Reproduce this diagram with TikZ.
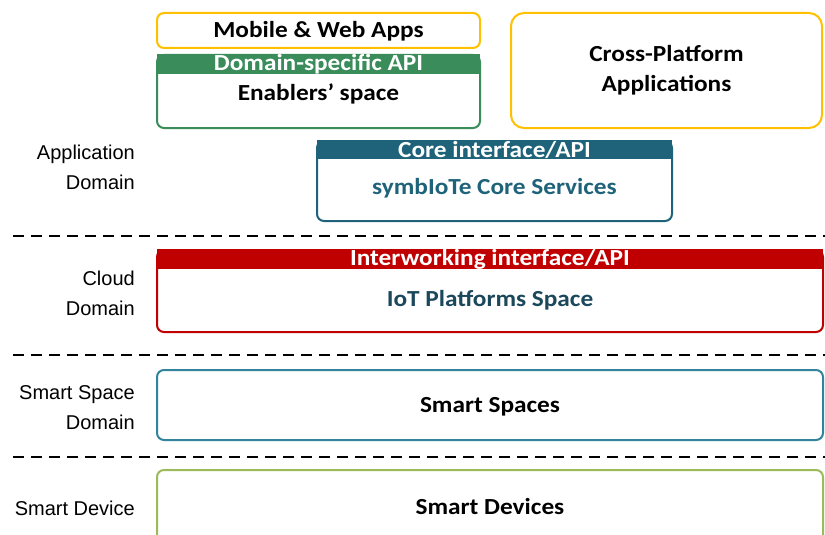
\documentclass[tikz,border=0pt]{standalone}
\usepackage{fontspec}
\setmainfont{Carlito}[FakeStretch=1.1]
\newfontfamily\fuenteDominio{Liberation Sans}
\usetikzlibrary{positioning}
\definecolor{figAmarilloBorde}{RGB}{255,192,0}
\definecolor{figVerdeBorde}{RGB}{58,140,90}
\definecolor{figPetroleoBorde}{RGB}{31,99,122}
\definecolor{figRojoBorde}{RGB}{192,0,0}
\definecolor{figCianBorde}{RGB}{49,132,155}
\definecolor{figOlivaBorde}{RGB}{155,187,89}
\definecolor{figTextoIoT}{RGB}{28,72,92}
\tikzset{
  capa/.style={
    rectangle, rounded corners=7pt, line width=2pt, fill=white,
    inner sep=0pt, align=center
  },
  cabecera/.style={
    rectangle, anchor=north, inner sep=0pt, text=white,
    font=\bfseries\fontsize{23}{24}\selectfont
  },
  rotulo/.style={
    inner sep=0pt, align=center, font=\bfseries\fontsize{23}{30}\selectfont
  },
  dominio/.style={
    anchor=east, inner sep=0pt, align=right,
    font=\fuenteDominio\fontsize{20}{30}\selectfont
  },
  separador/.style={line width=2.5pt, dash pattern=on 11pt off 7pt}
}

\begin{document}
\begin{tikzpicture}[x=1pt, y=-1pt]
  \useasboundingbox (0,0) rectangle (825,535);
  \node[capa, draw=figAmarilloBorde, minimum width=323pt, minimum height=35pt] (movil) at (318.5,30.5) {};
  \node[rotulo] (movilTxt) at (318.5,31.5) {Mobile \& Web Apps};
  \node[capa, draw=figVerdeBorde, minimum width=323pt, minimum height=73pt] (habil) at (318.5,91.5) {};
  \node[cabecera, fill=figVerdeBorde, minimum width=323pt, minimum height=18pt] (habilApi) at (habil.north) {Domain-specific API};
  \node[rotulo] (habilTxt) at (318.5,94) {Enablers’ space};
  \node[capa, draw=figAmarilloBorde, rounded corners=13pt, minimum width=311pt, minimum height=115pt] (cruzada) at (666.5,70.5) {};
  \node[rotulo] (cruzadaTxt) at (cruzada.center) {Cross-Platform\\Applications};
  \node[capa, draw=figPetroleoBorde, minimum width=355pt, minimum height=80pt] (nucleo) at (494.5,181) {};
  \node[cabecera, fill=figPetroleoBorde, minimum width=355pt, minimum height=19pt] (nucleoApi) at (nucleo.north) {Core interface/API};
  \node[rotulo, text=figPetroleoBorde] (nucleoTxt) at (494.5,188) {symbIoTe Core Services};
  \node[capa, draw=figRojoBorde, minimum width=666pt, minimum height=82pt] (iot) at (490,291) {};
  \node[cabecera, fill=figRojoBorde, minimum width=666pt, minimum height=20pt] (iotApi) at (iot.north) {Interworking interface/API};
  \node[rotulo, text=figTextoIoT] (iotTxt) at (490,300) {IoT Platforms Space};
  \node[capa, draw=figCianBorde, minimum width=666pt, minimum height=70pt] (espacios) at (490,405) {};
  \node[rotulo] (espaciosTxt) at (490,407) {Smart Spaces};
  \node[capa, draw=figOlivaBorde, minimum width=666pt, minimum height=76pt] (dispositivos) at (490,508) {};
  \node[rotulo] (dispositivosTxt) at (490,507) {Smart Devices};
  \node[dominio] (domApp) at (135,167) {Application\\Domain};
  \node[dominio] (domNube) at (135,293) {Cloud\\Domain};
  \node[dominio] (domEspacio) at (135,408) {Smart Space\\Domain};
  \node[dominio] (domDisp) at (135,508) {Smart Device};
  \draw[separador] (13,236) -- (825,236);
  \draw[separador] (13,355) -- (825,355);
  \draw[separador] (13,457) -- (825,457);
\end{tikzpicture}
\end{document}
